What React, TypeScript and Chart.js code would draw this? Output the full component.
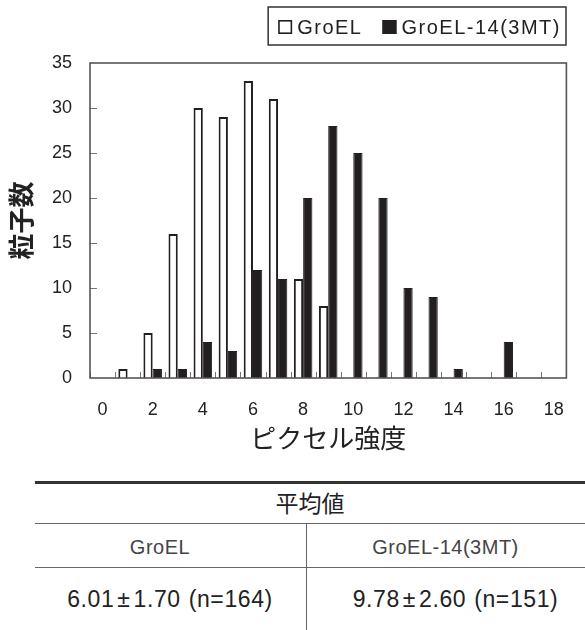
import React, { useEffect, useRef } from "react";
import { Chart, registerables } from "chart.js";

Chart.register(...registerables);

// ---- data ----
const categories = ["0", "1", "2", "3", "4", "5", "6", "7", "8", "9", "10", "11", "12", "13", "14", "15", "16", "17", "18"];
const groelCounts = [0, 1, 5, 16, 30, 29, 33, 31, 11, 8, 0, 0, 0, 0, 0, 0, 0, 0, 0];
const groel14Counts = [0, 0, 1, 1, 4, 3, 12, 11, 20, 28, 25, 20, 10, 9, 1, 0, 4, 0, 0];
const seriesLabels = ["GroEL", "GroEL-14(3MT)"];
const yMin = 0;
const yMax = 35;
const yStep = 5;
const xTitle = "ピクセル強度";
const yTitle = "粒子数";
const tableHeader = "平均値";
const tableColumns = ["GroEL", "GroEL-14(3MT)"];
const tableMeans = ["6.01", "9.78"];
const tableSDs = ["1.70", "2.60"];
const tableNs = ["164", "151"];

const LATIN = '"Liberation Sans", Arial, sans-serif';
const CJK = '"Noto Sans CJK JP", "Noto Sans", sans-serif';

const framePlugin = {
  id: "frame",
  afterDatasetsDraw(chart: any) {
    const { ctx, chartArea } = chart;
    const xs = chart.scales.x;
    const ys = chart.scales.y;
    ctx.save();
    ctx.strokeStyle = "#777";
    ctx.lineWidth = 1;
    const half = (xs.getPixelForValue(1) - xs.getPixelForValue(0)) / 2;
    for (let i = 0; i <= categories.length; i++) {
      const px = Math.round(xs.getPixelForValue(0) - half + i * half * 2) + 0.5;
      ctx.beginPath();
      ctx.moveTo(px, chartArea.bottom);
      ctx.lineTo(px, chartArea.bottom - 6);
      ctx.stroke();
    }
    for (let v = yMin + yStep; v < yMax; v += yStep) {
      const py = Math.round(ys.getPixelForValue(v)) + 0.5;
      ctx.beginPath();
      ctx.moveTo(chartArea.left, py);
      ctx.lineTo(chartArea.left + 7, py);
      ctx.stroke();
    }
    ctx.strokeStyle = "#555";
    ctx.lineWidth = 1.6;
    ctx.strokeRect(chartArea.left, chartArea.top, chartArea.right - chartArea.left, chartArea.bottom - chartArea.top);
    ctx.restore();
  },
};

const boxLegendPlugin = {
  id: "boxLegend",
  afterDraw(chart: any) {
    const { ctx } = chart;
    const ds = chart.data.datasets;
    ctx.save();
    ctx.font = `20px ${LATIN}`;
    (ctx as any).letterSpacing = "1.5px";
    const sq = 14;
    const gapText = 5;
    const gapItem = 20;
    const padL = 10;
    const padR = 5;
    const widths = ds.map((d: any) => ctx.measureText(d.label).width);
    const total =
      padL + padR + ds.length * (sq + gapText) + widths.reduce((a: number, b: number) => a + b, 0) + gapItem * (ds.length - 1);
    const right = 566;
    const top = 7;
    const h = 38;
    let x = right - total;
    ctx.strokeStyle = "#333";
    ctx.lineWidth = 1.5;
    ctx.strokeRect(x, top, total, h);
    const cy = top + h / 2 + 1;
    x += padL;
    ds.forEach((d: any, i: number) => {
      ctx.fillStyle = d.backgroundColor;
      ctx.fillRect(x, cy - sq / 2, sq, sq);
      ctx.strokeStyle = "#231f20";
      ctx.lineWidth = 1.6;
      ctx.strokeRect(x + 0.8, cy - sq / 2 + 0.8, sq - 1.6, sq - 1.6);
      x += sq + gapText;
      ctx.fillStyle = "#222";
      ctx.textBaseline = "middle";
      ctx.textAlign = "left";
      ctx.fillText(d.label, x, cy + 1);
      x += widths[i] + gapItem;
    });
    ctx.restore();
  },
};

function HistogramChart() {
  const ref = useRef<HTMLCanvasElement | null>(null);
  useEffect(() => {
    if (!ref.current) return;
    const chart = new Chart(ref.current, {
      type: "bar",
      data: {
        labels: categories,
        datasets: [
          {
            label: seriesLabels[0],
            data: groelCounts,
            backgroundColor: "#ffffff",
            borderColor: "#231f20",
            borderWidth: 2,
            categoryPercentage: 0.74,
            barPercentage: 1.0,
          },
          {
            label: seriesLabels[1],
            data: groel14Counts,
            backgroundColor: "#231f20",
            borderColor: "#231f20",
            borderWidth: 1,
            categoryPercentage: 0.74,
            barPercentage: 1.0,
          },
        ],
      },
      options: {
        responsive: false,
        animation: false,
        layout: { padding: { top: 63, right: 5, left: 0, bottom: 0 } },
        plugins: {
          legend: { display: false },
          tooltip: { enabled: false },
        },
        scales: {
          x: {
            type: "category",
            grid: { display: false, drawTicks: false },
            border: { display: false },
            afterFit: (s: any) => {
              s.height = 87;
            },
            ticks: {
              autoSkip: false,
              maxRotation: 0,
              minRotation: 0,
              padding: 21,
              color: "#222",
              font: { family: LATIN, size: 18, lineHeight: 1.2 },
              callback: (_v: any, i: number) => (i % 2 === 0 ? categories[i] : ""),
            },
            title: {
              display: true,
              text: xTitle,
              color: "#222",
              font: { family: CJK, size: 26, lineHeight: 1.2 },
              padding: { top: 0, bottom: 11 },
            },
          },
          y: {
            min: yMin,
            max: yMax,
            grid: { display: false, drawTicks: false },
            border: { display: false },
            afterFit: (s: any) => {
              s.width = 90;
            },
            ticks: {
              stepSize: yStep,
              padding: 18,
              color: "#222",
              font: { family: LATIN, size: 18 },
            },
            title: {
              display: true,
              text: yTitle,
              color: "#222",
              font: { family: CJK, size: 26, weight: "bold", lineHeight: 1.2 },
              padding: { top: 6, bottom: 0 },
            },
          },
        },
      },
      plugins: [framePlugin, boxLegendPlugin],
    });
    return () => chart.destroy();
  }, []);
  return <canvas ref={ref} width={585} height={465} style={{ display: "block", position: "absolute", left: 0, top: 0 }} />;
}

function hLine(top: number, thickness: number, color: string) {
  return <div style={{ position: "absolute", left: 35, right: 0, top, height: thickness, background: color }} />;
}

function cell(content: React.ReactNode, left: number, width: number, centerY: number, size: number, color: string, family: string, spacing = 0) {
  return (
    <div
      style={{
        position: "absolute",
        left,
        width,
        top: centerY - size,
        height: size * 2,
        lineHeight: `${size * 2}px`,
        textAlign: "center",
        fontSize: size,
        color,
        fontFamily: family,
        whiteSpace: "nowrap",
        letterSpacing: spacing,
      }}
    >
      {content}
    </div>
  );
}

function valueText(i: number) {
  return (
    <>
      {tableMeans[i]}
      <span style={{ margin: "0 3px" }}>±</span>
      {tableSDs[i]}
      <span style={{ marginLeft: 8 }}>(n={tableNs[i]})</span>
    </>
  );
}

export default function App() {
  return (
    <div style={{ position: "fixed", left: 0, top: 0, width: 585, height: 630, background: "#fff", overflow: "hidden" }}>
      <HistogramChart />
      {hLine(481, 2.5, "#333")}
      {cell(tableHeader, 35, 550, 502, 23, "#222", CJK)}
      {hLine(523, 1.2, "#666")}
      <div style={{ position: "absolute", left: 305.5, top: 523, width: 1.2, height: 107, background: "#666" }} />
      {cell(tableColumns[0], 25, 270, 547, 20, "#444", LATIN, 0.5)}
      {cell(tableColumns[1], 306, 279, 547, 20, "#444", LATIN, 0.5)}
      {hLine(567, 1.2, "#666")}
      {cell(valueText(0), 35, 270, 599, 23, "#222", LATIN, 0.6)}
      {cell(valueText(1), 316, 279, 599, 23, "#222", LATIN, 0.6)}
    </div>
  );
}
